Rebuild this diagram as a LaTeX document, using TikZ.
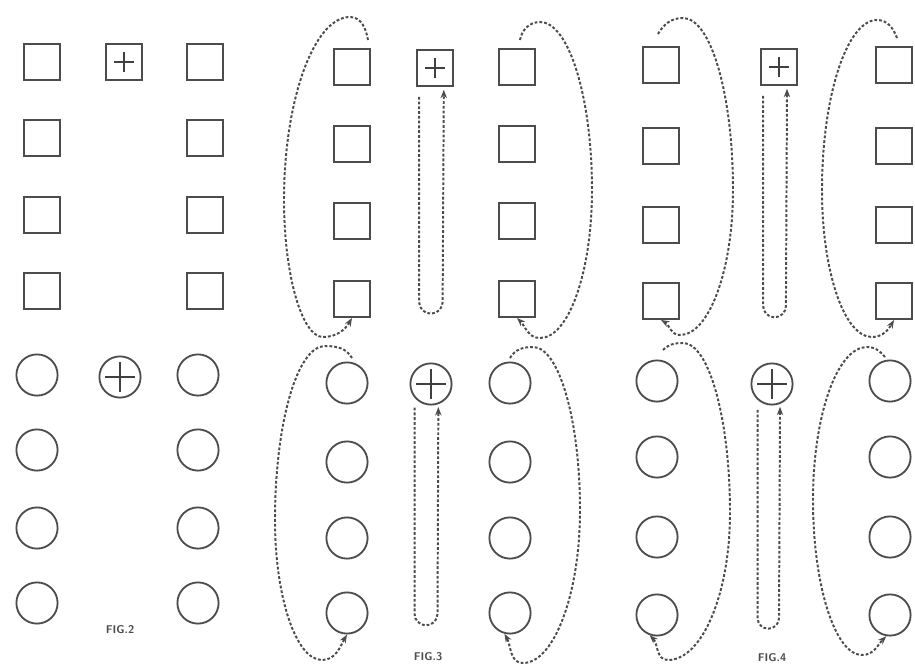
\documentclass[tikz,border=0pt]{standalone}
\usepackage{tikz}
\usetikzlibrary{arrows.meta}

\tikzset{
  cell/.style={draw=black!70, line width=1.3pt, inner sep=0pt},
  sq/.style={cell, rectangle, minimum size=0.9cm},
  rd/.style={cell, circle, minimum size=1.03cm},
  sqplus/.style={sq, path picture={\draw[line width=1.1pt, black!75]
      (path picture bounding box.center) +(-0.26cm,0) -- +(0.26cm,0) +(0,-0.26cm) -- +(0,0.26cm);}},
  rdplus/.style={rd, path picture={\draw[line width=1.1pt, black!75]
      (path picture bounding box.center) +(-0.38cm,0) -- +(0.38cm,0) +(0,-0.38cm) -- +(0,0.38cm);}},
  flow/.style={->, >={Stealth[length=6pt,width=4.5pt]}, black!70, line width=1.4pt,
    dash pattern=on 2pt off 1.4pt},
  figlabel/.style={font=\sffamily\bfseries\fontsize{8}{9}\selectfont, text=black!70}
}

\begin{document}
\begin{tikzpicture}[x=0.025cm, y=0.025cm]
  \useasboundingbox (0,0) rectangle (915,-667);

  % FIG. 2
  \foreach \y [count=\r] in {62,138,215,291} {
    \node[sq] (s2a\r) at (42,-\y) {};
    \node[sq] (s2c\r) at (205,-\y) {};
  }
  \node[sqplus] (s2b1) at (124,-62) {};
  \foreach \y [count=\r] in {375,450,528,603} {
    \node[rd] (c2a\r) at (37,-\y) {};
    \node[rd] (c2c\r) at (198,-\y) {};
  }
  \node[rdplus] (c2b1) at (120,-377) {};
  \node[figlabel] (fig2) at (120,-630) {FIG.2};

  % FIG. 3
  \foreach \y [count=\r] in {67,144,221,299} {
    \node[sq] (s3a\r) at (352,-\y) {};
    \node[sq] (s3c\r) at (517,-\y) {};
  }
  \node[sqplus] (s3b1) at (435,-68) {};
  \foreach \y [count=\r] in {383,462,538,613} {
    \node[rd] (c3a\r) at (347,-\y) {};
    \node[rd] (c3c\r) at (510,-\y) {};
  }
  \node[rdplus] (c3b1) at (431,-384) {};
  \node[figlabel] (fig3) at (428,-657) {FIG.3};

  % FIG. 4
  \foreach \y [count=\r] in {65,146,225,301} {
    \node[sq] (s4a\r) at (661,-\y) {};
    \node[sq] (s4c\r) at (894,-\y) {};
  }
  \node[sqplus] (s4b1) at (779,-67) {};
  \foreach \y [count=\r] in {381,457,537,615} {
    \node[rd] (c4a\r) at (657,-\y) {};
    \node[rd] (c4c\r) at (890,-\y) {};
  }
  \node[rdplus] (c4b1) at (772,-384) {};
  \node[figlabel] (fig4) at (772,-658) {FIG.4};

  % loose ends of the loops
  \coordinate (t3a) at (368,-40);
  \coordinate (t3c) at (520,-40);
  \coordinate (b3a) at (352,-358);
  \coordinate (b3c) at (510,-358);
  \coordinate (t4a) at (658,-34);
  \coordinate (t4c) at (897,-38);
  \coordinate (b4a) at (663,-350);
  \coordinate (b4c) at (885,-357);

  % Fig. 3 loops
  \draw[flow] (t3a) to[out=100,in=0] (350,-17)
    .. controls +(-36,0) and +(0,100) .. (284,-200)
    .. controls +(0,-75) and +(-21,0) .. (323,-337) to[out=0,in=-120] (s3a4.south);
  \draw[flow] (t3c) to[out=80,in=180] (540,-22)
    .. controls +(29,0) and +(0,92) .. (592,-190)
    .. controls +(0,-81) and +(29,0) .. (540,-338) to[out=180,in=-45] (s3c4.south);
  \draw[flow] (b3a) to[out=120,in=0] (325,-346)
    .. controls +(-28,0) and +(0,96) .. (275,-520)
    .. controls +(0,-77) and +(-26,0) .. (322,-660) to[out=0,in=-120] (c3a4.south);
  \draw[flow] (b3c) to[out=60,in=180] (533,-347)
    .. controls +(26,0) and +(0,90) .. (580,-510)
    .. controls +(0,-84) and +(31,0) .. (523,-663) to[out=180,in=-60] (c3c4.-105);
  \draw[flow, shorten <=7pt, shorten >=2pt] (s3b1.-130) -- ++(0,-215)
    arc[start angle=180, end angle=360, radius=11.75] -- (s3b1.-65);
  \draw[flow, shorten <=7pt, shorten >=2pt] (c3b1.-140) -- ++(0,-216)
    arc[start angle=180, end angle=360, radius=11.5] -- (c3b1.-70);

  % Fig. 4 loops
  \draw[flow] (t4a) to[out=60,in=180] (683,-18)
    .. controls +(28,0) and +(0,95) .. (733,-190)
    .. controls +(0,-80) and +(29,0) .. (680,-335) to[out=180,in=-30] (s4a4.south);
  \draw[flow] (t4c) to[out=110,in=0] (877,-20)
    .. controls +(-30,0) and +(0,94) .. (822,-190)
    .. controls +(0,-81) and +(-28,0) .. (872,-337) to[out=0,in=-120] (s4c4.south);
  \draw[flow] (b4a) to[out=45,in=180] (683,-343)
    .. controls +(26,0) and +(0,94) .. (730,-513)
    .. controls +(0,-81) and +(34,0) .. (668,-660) to[out=180,in=-45] (c4a4.-110);
  \draw[flow] (b4c) to[out=130,in=0] (867,-347)
    .. controls +(-30,0) and +(0,84) .. (813,-500)
    .. controls +(0,-85) and +(-27,0) .. (862,-655) to[out=0,in=-135] (c4c4.-100);
  \draw[flow, shorten <=7pt, shorten >=2pt] (s4b1.-130) -- ++(0,-220)
    arc[start angle=180, end angle=360, radius=11.4] -- (s4b1.-67);
  \draw[flow, shorten <=7pt, shorten >=2pt] (c4b1.-132) -- ++(0,-218)
    arc[start angle=180, end angle=360, radius=10.7] -- (c4b1.-68);
\end{tikzpicture}
\end{document}
